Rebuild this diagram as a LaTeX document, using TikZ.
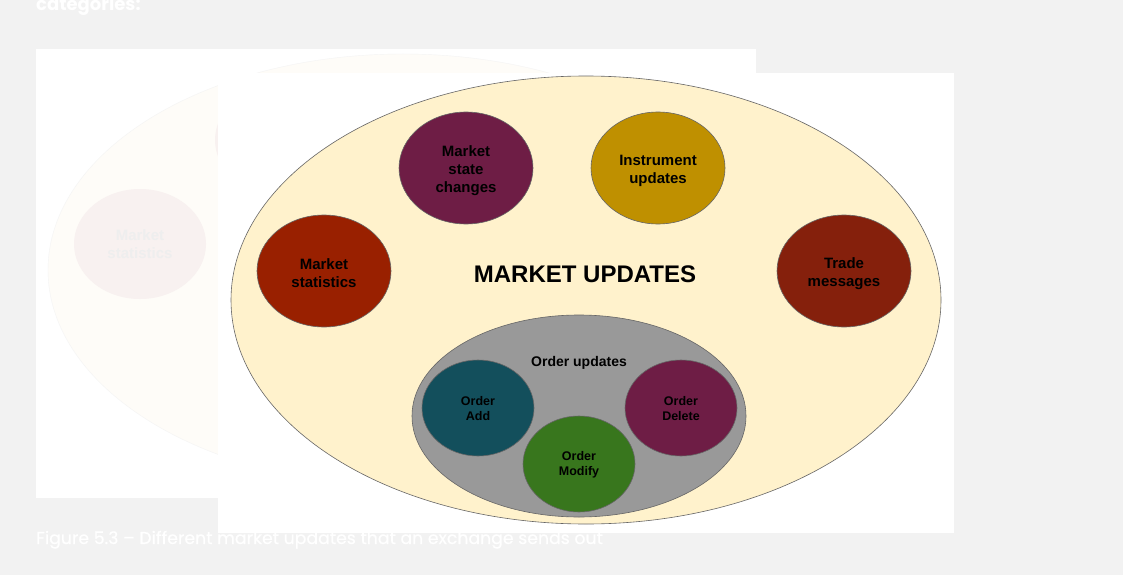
\documentclass[tikz,border=0pt]{standalone}
\usepackage{fontspec}
\setmainfont{Liberation Sans}
\newfontfamily\pagefont{Poppins}
\newfontfamily\capfont{Poppins}[UprightFeatures={FakeBold=0.7}]
\usetikzlibrary{shapes.geometric}

\definecolor{pagegray}{HTML}{F2F2F2}
\definecolor{outline}{HTML}{666666}
\definecolor{cream}{HTML}{FFF2CC}
\definecolor{rust}{HTML}{992000}
\definecolor{plum}{HTML}{6E1D45}
\definecolor{ochre}{HTML}{BF9000}
\definecolor{brick}{HTML}{85200C}
\definecolor{deepteal}{HTML}{134F5C}
\definecolor{leaf}{HTML}{38761D}
\definecolor{midgray}{HTML}{999999}
\definecolor{ghostline}{HTML}{F4F4F4}
\definecolor{ghostfill}{HTML}{FEFCF8}
\definecolor{ghostdot}{HTML}{F8F1F0}
\definecolor{ghosttext}{HTML}{EEEEEE}

\begin{document}
\begin{tikzpicture}
		[x=1pt, y=-1pt,
		bubble/.style={ellipse, draw=outline, line width=0.6pt, inner sep=0pt,
			minimum width=134pt, minimum height=112pt,
			label={[align=center, yshift=-2.5pt, font=\bfseries\fontsize{15}{18}\selectfont]center:#1}},
		small/.style={ellipse, draw=outline, line width=0.6pt, inner sep=0pt,
			minimum width=112pt, minimum height=96pt,
			label={[align=center, yshift=-1pt, font=\bfseries\fontsize{12.5}{15}\selectfont]center:#1}},
		ghost/.style={ellipse, inner sep=0pt, align=center, text=ghosttext,
			minimum width=132pt, minimum height=110pt,
			font=\bfseries\fontsize{15}{18}\selectfont}]
		\useasboundingbox (0,0) rectangle (1123,575);
		\fill[pagegray] (0,0) rectangle (1123,575);
		\node[anchor=base west, inner sep=0pt, text=white, font=\pagefont\bfseries\fontsize{18}{20}\selectfont]
			(head) at (36,11) {categories:};
		\node[anchor=base west, inner sep=0pt, text=white, font=\capfont\fontsize{17.3}{20}\selectfont]
			(caption) at (36,544) {Figure 5.3 – Different market updates that an exchange sends out};

		% faded copy behind
		\fill[white] (36,49) rectangle (756,498);
		\node[ellipse, draw=ghostline, fill=ghostfill, minimum width=710pt, minimum height=432pt]
			(oldall) at (403,270) {};
		\node[ghost, fill=ghostdot] (oldstats) at (140,244) {Market\\statistics};
		\node[ghost, fill=ghostdot] (oldstate) at (281,140) {};

		% front picture
		\fill[white] (218,73) rectangle (954,533);
		\node[ellipse, draw=outline, line width=0.6pt, fill=cream, minimum width=710pt, minimum height=448pt]
			(all) at (586,300) {};
		\node[font=\bfseries\fontsize{24}{28}\selectfont] (title) at (585,274) {MARKET UPDATES};
		\node[bubble={Market\\statistics}, fill=rust] (stats) at (324,271) {};
		\node[bubble={Market\\state\\changes}, fill=plum] (state) at (466,168) {};
		\node[bubble={Instrument\\updates}, fill=ochre] (instr) at (658,168) {};
		\node[bubble={Trade\\messages}, fill=brick] (trade) at (844,271) {};

		\node[ellipse, draw=outline, line width=0.6pt, fill=midgray, minimum width=334pt, minimum height=202pt]
			(orders) at (579,416) {};
		\node[font=\bfseries\fontsize{14}{17}\selectfont] (ordtitle) at (579,363) {Order updates};
		\node[small={Order\\Add}, fill=deepteal] (add) at (478,408) {};
		\node[small={Order\\Delete}, fill=plum] (delete) at (681,408) {};
		\node[small={Order\\Modify}, fill=leaf] (modify) at (579,464) {};
	\end{tikzpicture}
\end{document}
